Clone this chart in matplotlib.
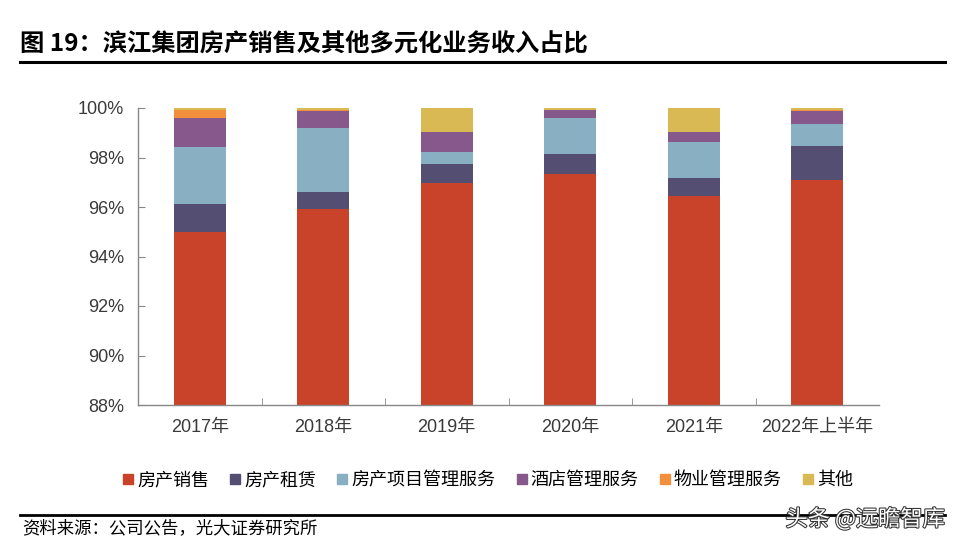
import matplotlib.pyplot as plt
import matplotlib.patheffects as pe
from matplotlib.ticker import FuncFormatter, FixedLocator
from matplotlib.lines import Line2D
import numpy as np

plt.rcParams['font.family'] = ['Liberation Sans', 'Noto Sans CJK SC', 'DejaVu Sans']

# 数据（%）
years = ['2017年', '2018年', '2019年', '2020年', '2021年', '2022年上半年']
series_names = ['房产销售', '房产租赁', '房产项目管理服务', '酒店管理服务', '物业管理服务', '其他']
sales = [95.00, 95.92, 96.98, 97.33, 96.46, 97.09]
rental = [1.11, 0.70, 0.76, 0.80, 0.72, 1.39]
project_mgmt = [2.33, 2.56, 0.47, 1.45, 1.46, 0.86]
hotel = [1.14, 0.71, 0.83, 0.33, 0.40, 0.55]
property_mgmt = [0.34, 0.02, 0.00, 0.01, 0.00, 0.01]
other = [0.08, 0.09, 0.96, 0.08, 0.96, 0.10]

colors = ['#C8432A', '#544F72', '#88AFC2', '#86588B', '#F28F3C', '#D9B953']

fig = plt.figure(figsize=(9.62, 5.55), dpi=100)
ax = fig.add_axes([138 / 962, 1 - 405 / 555, (879 - 138) / 962, (405 - 108) / 555])

x = np.arange(len(years))
bottom = np.zeros(len(years))
for vals, name, c in zip([sales, rental, project_mgmt, hotel, property_mgmt, other], series_names, colors):
    ax.bar(x, vals, bottom=bottom, width=0.42, color=c, label=name, zorder=2)
    bottom += np.array(vals)

ax.set_ylim(88, 100)
ax.set_xlim(-0.5, len(years) - 0.5)
ax.set_yticks(np.arange(88, 101, 2))
ax.yaxis.set_major_formatter(FuncFormatter(lambda v, p: f'{v:.0f}%'))
ax.set_xticks(x)
ax.set_xticklabels(years)
ax.xaxis.set_minor_locator(FixedLocator(np.arange(0.5, len(years) - 0.5, 1)))
ax.tick_params(axis='x', which='major', length=0, labelsize=13, colors='#3a3a3a', pad=10)
ax.tick_params(axis='x', which='minor', length=5, direction='in', color='#888888')
ax.tick_params(axis='y', length=5, direction='in', labelsize=13, colors='#3a3a3a', pad=10)
ax.tick_params(axis='y', color='#888888')
for s in ['top', 'right']:
    ax.spines[s].set_visible(False)
for s in ['left', 'bottom']:
    ax.spines[s].set_color('#888888')
    ax.spines[s].set_linewidth(1)

handles = [Line2D([0], [0], marker='s', linestyle='none', markersize=7, markerfacecolor=c,
                  markeredgecolor=c) for c in colors]
fig.legend(handles, series_names, loc='center', bbox_to_anchor=(486 / 962, 1 - 480 / 555),
           ncol=6, frameon=False, handletextpad=0.0, columnspacing=0.95, handlelength=1.0,
           prop={'family': ['Noto Sans CJK SC'], 'size': 13})

# 标题
fig.text(20 / 962, 1 - 45 / 555, '图 19：滨江集团房产销售及其他多元化业务收入占比',
         fontsize=17.5, fontweight='bold', family=['Noto Sans CJK SC'], va='center', ha='left')
fig.add_artist(Line2D([20 / 962, 945 / 962], [1 - 62 / 555, 1 - 62 / 555], color='black', linewidth=2.2))

# 来源
fig.add_artist(Line2D([20 / 962, 945 / 962], [1 - 515 / 555, 1 - 515 / 555], color='black', linewidth=2))
fig.text(22 / 962, 1 - 528 / 555, '资料来源：公司公告，光大证券研究所', fontsize=12.5,
         family=['Noto Sans CJK SC'], va='center', ha='left')
fig.text(945 / 962, 1 - 519 / 555, '头条 @远瞻智库', fontsize=16, color='white',
         family=['Noto Sans CJK SC'], va='center', ha='right',
         path_effects=[pe.withStroke(linewidth=1.5, foreground='#333333')])

fig.savefig('out.png', dpi=100)
